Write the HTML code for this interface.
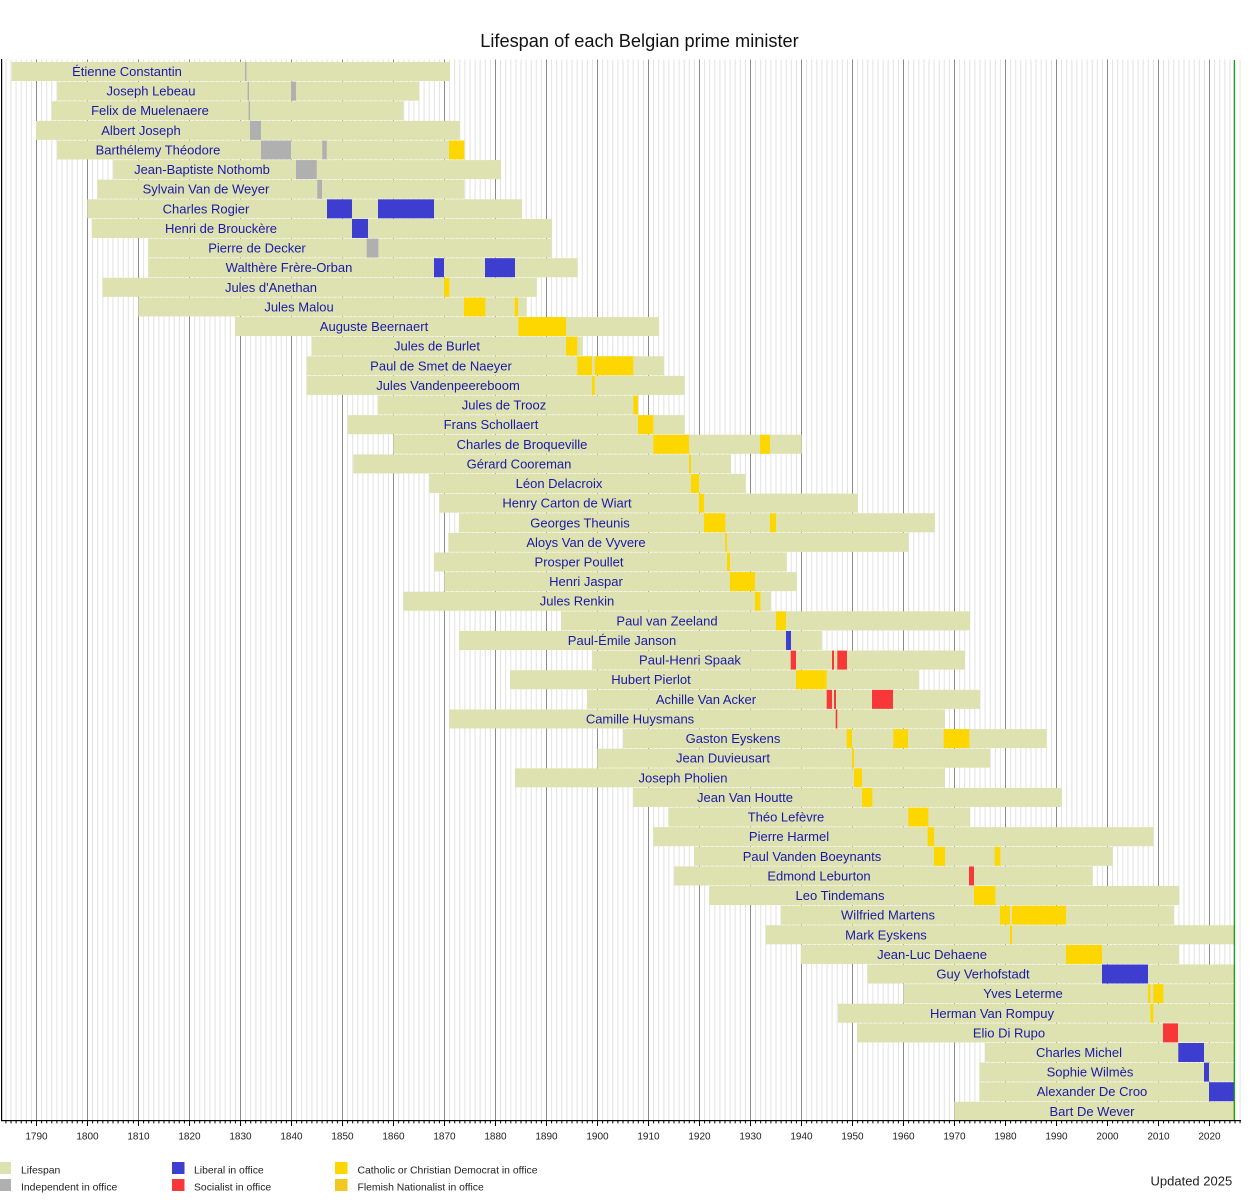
<!DOCTYPE html>
<html><head><meta charset="utf-8">
<style>
html,body{margin:0;padding:0;background:#fff;}
svg{display:block;}
.l{fill:#dee2b0}
.g{fill:#b0b0b0}
.b{fill:#3d3dd0}
.r{fill:#f83838}
.y{fill:#ffd700}
.f{fill:#f0c820}
.rows text{font-family:"Liberation Sans",Arial,sans-serif;font-size:13px;fill:#1a1aa8;text-anchor:middle}
.tk text{font-family:"Liberation Sans",Arial,sans-serif;font-size:10px;fill:#222;text-anchor:middle}
.lg text{font-family:"Liberation Sans",Arial,sans-serif;font-size:10.4px;fill:#222}
</style></head>
<body>
<svg width="1250" height="1200" viewBox="0 0 1250 1200" xmlns="http://www.w3.org/2000/svg">
<rect width="1250" height="1200" fill="#fff"/>
<text x="639.5" y="47" font-family="Liberation Sans, Arial, sans-serif" font-size="18.2" fill="#111" text-anchor="middle">Lifespan of each Belgian prime minister</text>

<!-- minor gridlines -->
<line x1="5.4" y1="590" x2="1240.5" y2="590" stroke="#e2e2e2" stroke-width="1061" stroke-dasharray="1 4.1"/>
<!-- major gridlines -->
<line x1="36" y1="590" x2="1211" y2="590" stroke="#8a8a8a" stroke-width="1061" stroke-dasharray="1 50"/>

<g class="rows">
<g transform="translate(0,62)"><rect class="l" x="11.7" width="438" height="19"/><rect class="g" x="245" width="1.5" height="19"/><text x="127" y="14">Étienne Constantin</text></g>
<g transform="translate(0,81.62)"><rect class="l" x="57.3" width="362" height="19"/><rect class="g" x="247.6" width="1.4" height="19"/><rect class="g" x="291" width="5" height="19"/><text x="151" y="14">Joseph Lebeau</text></g>
<g transform="translate(0,101.24)"><rect class="l" x="51.7" width="351.6" height="19"/><rect class="g" x="248.6" width="1.4" height="19"/><text x="150" y="14">Felix de Muelenaere</text></g>
<g transform="translate(0,120.86)"><rect class="l" x="36" width="424" height="19"/><rect class="g" x="250" width="11" height="19"/><text x="141" y="14">Albert Joseph</text></g>
<g transform="translate(0,140.48)"><rect class="l" x="57.3" width="407" height="19"/><rect class="g" x="261" width="30" height="19"/><rect class="g" x="322.3" width="4.4" height="19"/><rect class="y" x="449" width="15.3" height="19"/><text x="158" y="14">Barthélemy Théodore</text></g>
<g transform="translate(0,160.10)"><rect class="l" x="113.3" width="387.7" height="19"/><rect class="g" x="296" width="20.7" height="19"/><text x="202" y="14">Jean-Baptiste Nothomb</text></g>
<g transform="translate(0,179.72)"><rect class="l" x="97.3" width="367" height="19"/><rect class="g" x="317.3" width="4.7" height="19"/><text x="206" y="14">Sylvain Van de Weyer</text></g>
<g transform="translate(0,199.34)"><rect class="l" x="87.3" width="434.7" height="19"/><rect class="b" x="327" width="25" height="19"/><rect class="b" x="378" width="56" height="19"/><text x="206" y="14">Charles Rogier</text></g>
<g transform="translate(0,218.96)"><rect class="l" x="91.7" width="460.3" height="19"/><rect class="b" x="352" width="16" height="19"/><text x="221" y="14">Henri de Brouckère</text></g>
<g transform="translate(0,238.58)"><rect class="l" x="148.3" width="403.4" height="19"/><rect class="g" x="366.7" width="11.6" height="19"/><text x="257" y="14">Pierre de Decker</text></g>
<g transform="translate(0,258.20)"><rect class="l" x="148.3" width="429.4" height="19"/><rect class="b" x="434" width="10" height="19"/><rect class="b" x="485" width="30" height="19"/><text x="289" y="14">Walthère Frère-Orban</text></g>
<g transform="translate(0,277.82)"><rect class="l" x="102.7" width="434" height="19"/><rect class="y" x="444" width="5.3" height="19"/><text x="271" y="14">Jules d'Anethan</text></g>
<g transform="translate(0,297.44)"><rect class="l" x="138.3" width="388.4" height="19"/><rect class="y" x="464" width="21.3" height="19"/><rect class="y" x="514.7" width="3.3" height="19"/><text x="299" y="14">Jules Malou</text></g>
<g transform="translate(0,317.06)"><rect class="l" x="235" width="424" height="19"/><rect class="y" x="518.3" width="47.7" height="19"/><text x="374" y="14">Auguste Beernaert</text></g>
<g transform="translate(0,336.68)"><rect class="l" x="311.7" width="271" height="19"/><rect class="y" x="566" width="11.3" height="19"/><text x="437" y="14">Jules de Burlet</text></g>
<g transform="translate(0,356.30)"><rect class="l" x="306.7" width="357.3" height="19"/><rect class="y" x="577.3" width="14.7" height="19"/><rect class="y" x="594.7" width="38.6" height="19"/><text x="441" y="14">Paul de Smet de Naeyer</text></g>
<g transform="translate(0,375.92)"><rect class="l" x="306.7" width="378" height="19"/><rect class="y" x="592" width="2.7" height="19"/><text x="448" y="14">Jules Vandenpeereboom</text></g>
<g transform="translate(0,395.54)"><rect class="l" x="377.7" width="260.3" height="19"/><rect class="y" x="633.3" width="4.7" height="19"/><text x="504" y="14">Jules de Trooz</text></g>
<g transform="translate(0,415.16)"><rect class="l" x="347.7" width="337" height="19"/><rect class="y" x="638" width="15.3" height="19"/><text x="491" y="14">Frans Schollaert</text></g>
<g transform="translate(0,434.78)"><rect class="l" x="393.3" width="408.4" height="19"/><rect class="y" x="653.3" width="35.7" height="19"/><rect class="y" x="760" width="10" height="19"/><text x="522" y="14">Charles de Broqueville</text></g>
<g transform="translate(0,454.40)"><rect class="l" x="353.3" width="377.7" height="19"/><rect class="y" x="689" width="2" height="19"/><text x="519" y="14">Gérard Cooreman</text></g>
<g transform="translate(0,474.02)"><rect class="l" x="429.3" width="316.4" height="19"/><rect class="y" x="691" width="8" height="19"/><text x="559" y="14">Léon Delacroix</text></g>
<g transform="translate(0,493.64)"><rect class="l" x="439.3" width="418.4" height="19"/><rect class="y" x="699" width="5" height="19"/><text x="567" y="14">Henry Carton de Wiart</text></g>
<g transform="translate(0,513.26)"><rect class="l" x="458.8" width="476.2" height="19"/><rect class="y" x="704" width="21.3" height="19"/><rect class="y" x="770" width="6" height="19"/><text x="580" y="14">Georges Theunis</text></g>
<g transform="translate(0,532.88)"><rect class="l" x="448.3" width="460" height="19"/><rect class="y" x="725.3" width="1.7" height="19"/><text x="586" y="14">Aloys Van de Vyvere</text></g>
<g transform="translate(0,552.50)"><rect class="l" x="434" width="352.7" height="19"/><rect class="y" x="727" width="3" height="19"/><text x="579" y="14">Prosper Poullet</text></g>
<g transform="translate(0,572.12)"><rect class="l" x="444.3" width="352.4" height="19"/><rect class="y" x="730" width="25" height="19"/><text x="586" y="14">Henri Jaspar</text></g>
<g transform="translate(0,591.74)"><rect class="l" x="403.3" width="367.4" height="19"/><rect class="y" x="755" width="5.3" height="19"/><text x="577" y="14">Jules Renkin</text></g>
<g transform="translate(0,611.36)"><rect class="l" x="561" width="409" height="19"/><rect class="y" x="776" width="10" height="19"/><text x="667" y="14">Paul van Zeeland</text></g>
<g transform="translate(0,630.98)"><rect class="l" x="459" width="362.7" height="19"/><rect class="b" x="786" width="5" height="19"/><text x="622" y="14">Paul-Émile Janson</text></g>
<g transform="translate(0,650.60)"><rect class="l" x="592.3" width="372.7" height="19"/><rect class="r" x="790.7" width="5.3" height="19"/><rect class="r" x="832" width="2" height="19"/><rect class="r" x="837.3" width="9.7" height="19"/><text x="690" y="14">Paul-Henri Spaak</text></g>
<g transform="translate(0,670.22)"><rect class="l" x="510" width="409" height="19"/><rect class="y" x="796" width="30.7" height="19"/><text x="651" y="14">Hubert Pierlot</text></g>
<g transform="translate(0,689.84)"><rect class="l" x="587.3" width="392.7" height="19"/><rect class="r" x="826.7" width="5.3" height="19"/><rect class="r" x="834" width="2" height="19"/><rect class="r" x="872" width="21" height="19"/><text x="706" y="14">Achille Van Acker</text></g>
<g transform="translate(0,709.46)"><rect class="l" x="449" width="496" height="19"/><rect class="r" x="835.7" width="1.6" height="19"/><text x="640" y="14">Camille Huysmans</text></g>
<g transform="translate(0,729.08)"><rect class="l" x="623.3" width="423.4" height="19"/><rect class="y" x="846.7" width="5.3" height="19"/><rect class="y" x="893.3" width="14.7" height="19"/><rect class="y" x="943.7" width="25.6" height="19"/><text x="733" y="14">Gaston Eyskens</text></g>
<g transform="translate(0,748.70)"><rect class="l" x="597.3" width="392.7" height="19"/><rect class="y" x="852" width="2" height="19"/><text x="723" y="14">Jean Duvieusart</text></g>
<g transform="translate(0,768.32)"><rect class="l" x="515" width="430" height="19"/><rect class="y" x="854" width="8" height="19"/><text x="683" y="14">Joseph Pholien</text></g>
<g transform="translate(0,787.94)"><rect class="l" x="633.3" width="428.4" height="19"/><rect class="y" x="862" width="10.3" height="19"/><text x="745" y="14">Jean Van Houtte</text></g>
<g transform="translate(0,807.56)"><rect class="l" x="668.3" width="301.7" height="19"/><rect class="y" x="908.3" width="20" height="19"/><text x="786" y="14">Théo Lefèvre</text></g>
<g transform="translate(0,827.18)"><rect class="l" x="653.3" width="500" height="19"/><rect class="y" x="927.7" width="6.3" height="19"/><text x="789" y="14">Pierre Harmel</text></g>
<g transform="translate(0,846.80)"><rect class="l" x="694" width="418.7" height="19"/><rect class="y" x="934" width="11" height="19"/><rect class="y" x="994.7" width="5.6" height="19"/><text x="812" y="14">Paul Vanden Boeynants</text></g>
<g transform="translate(0,866.42)"><rect class="l" x="674.3" width="418.4" height="19"/><rect class="r" x="969" width="5" height="19"/><text x="819" y="14">Edmond Leburton</text></g>
<g transform="translate(0,886.04)"><rect class="l" x="709.3" width="470" height="19"/><rect class="y" x="974" width="21.3" height="19"/><text x="840" y="14">Leo Tindemans</text></g>
<g transform="translate(0,905.66)"><rect class="l" x="780.7" width="393.3" height="19"/><rect class="y" x="1000" width="10" height="19"/><rect class="y" x="1012" width="54" height="19"/><text x="888" y="14">Wilfried Martens</text></g>
<g transform="translate(0,925.28)"><rect class="l" x="765.7" width="468.6" height="19"/><rect class="y" x="1010" width="2" height="19"/><text x="886" y="14">Mark Eyskens</text></g>
<g transform="translate(0,944.90)"><rect class="l" x="800.7" width="378.3" height="19"/><rect class="y" x="1066" width="36" height="19"/><text x="932" y="14">Jean-Luc Dehaene</text></g>
<g transform="translate(0,964.52)"><rect class="l" x="867.3" width="367" height="19"/><rect class="b" x="1102" width="46" height="19"/><text x="983" y="14">Guy Verhofstadt</text></g>
<g transform="translate(0,984.14)"><rect class="l" x="903.3" width="331" height="19"/><rect class="y" x="1148" width="2.3" height="19"/><rect class="y" x="1153.3" width="10" height="19"/><text x="1023" y="14">Yves Leterme</text></g>
<g transform="translate(0,1003.76)"><rect class="l" x="838" width="396.3" height="19"/><rect class="y" x="1150.3" width="3" height="19"/><text x="992" y="14">Herman Van Rompuy</text></g>
<g transform="translate(0,1023.38)"><rect class="l" x="857" width="377.3" height="19"/><rect class="r" x="1163" width="15" height="19"/><text x="1009" y="14">Elio Di Rupo</text></g>
<g transform="translate(0,1043.00)"><rect class="l" x="985" width="249.3" height="19"/><rect class="b" x="1178.3" width="25.7" height="19"/><text x="1079" y="14">Charles Michel</text></g>
<g transform="translate(0,1062.62)"><rect class="l" x="979.3" width="255" height="19"/><rect class="b" x="1204" width="5" height="19"/><text x="1090" y="14">Sophie Wilmès</text></g>
<g transform="translate(0,1082.24)"><rect class="l" x="979.3" width="255" height="19"/><rect class="b" x="1209" width="25.3" height="19"/><text x="1092" y="14">Alexander De Croo</text></g>
<g transform="translate(0,1101.86)"><rect class="l" x="954.3" width="280" height="19"/><rect class="f" x="1233.4" width="0.9" height="19"/><text x="1092" y="14">Bart De Wever</text></g>
</g>

<!-- current date line -->
<rect x="1233.7" y="60" width="1.3" height="1061" fill="#1aa01a"/>

<!-- axes -->
<rect x="1" y="59" width="1.2" height="1062" fill="#000"/>
<rect x="1" y="1120" width="1240" height="1.2" fill="#000"/>
<line x1="5.4" y1="1122.2" x2="1240.5" y2="1122.2" stroke="#000" stroke-width="2.4" stroke-dasharray="1 4.1"/>
<line x1="36" y1="1123.5" x2="1211" y2="1123.5" stroke="#000" stroke-width="5" stroke-dasharray="1 50"/>

<g class="tk">
<text x="36.5" y="1139.5">1790</text>
<text x="87.5" y="1139.5">1800</text>
<text x="138.5" y="1139.5">1810</text>
<text x="189.5" y="1139.5">1820</text>
<text x="240.5" y="1139.5">1830</text>
<text x="291.5" y="1139.5">1840</text>
<text x="342.5" y="1139.5">1850</text>
<text x="393.5" y="1139.5">1860</text>
<text x="444.5" y="1139.5">1870</text>
<text x="495.5" y="1139.5">1880</text>
<text x="546.5" y="1139.5">1890</text>
<text x="597.5" y="1139.5">1900</text>
<text x="648.5" y="1139.5">1910</text>
<text x="699.5" y="1139.5">1920</text>
<text x="750.5" y="1139.5">1930</text>
<text x="801.5" y="1139.5">1940</text>
<text x="852.5" y="1139.5">1950</text>
<text x="903.5" y="1139.5">1960</text>
<text x="954.5" y="1139.5">1970</text>
<text x="1005.5" y="1139.5">1980</text>
<text x="1056.5" y="1139.5">1990</text>
<text x="1107.5" y="1139.5">2000</text>
<text x="1158.5" y="1139.5">2010</text>
<text x="1209.5" y="1139.5">2020</text>
</g>

<!-- legend -->
<g class="lg">
<rect class="l" x="-1" y="1162" width="12" height="12"/>
<rect class="g" x="-1" y="1179" width="12" height="12"/>
<rect class="b" x="172" y="1162" width="12.5" height="12"/>
<rect class="r" x="172" y="1179" width="12.5" height="12"/>
<rect class="y" x="335" y="1162" width="12.5" height="12"/>
<rect class="f" x="335" y="1179" width="12.5" height="12"/>
<text x="21" y="1173.5">Lifespan</text>
<text x="21" y="1190.5">Independent in office</text>
<text x="194" y="1173.5">Liberal in office</text>
<text x="194" y="1190.5">Socialist in office</text>
<text x="357.5" y="1173.5">Catholic or Christian Democrat in office</text>
<text x="357.5" y="1190.5">Flemish Nationalist in office</text>
</g>
<text x="1150.5" y="1185.5" font-family="Liberation Sans, Arial, sans-serif" font-size="13" fill="#222">Updated 2025</text>
</svg>
</body></html>
